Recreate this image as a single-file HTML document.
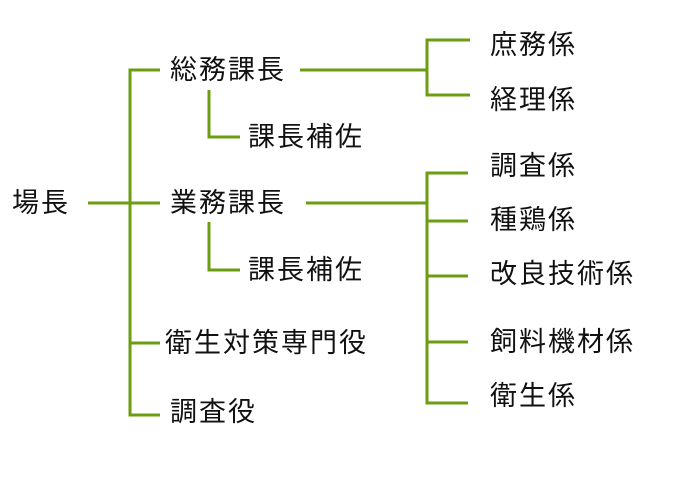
<!DOCTYPE html>
<html><head><meta charset="utf-8"><style>
body{margin:0;background:#fff;width:677px;height:480px;overflow:hidden;position:relative}
svg{position:absolute;left:0;top:0}
.t{position:absolute;font-family:"Liberation Sans","Noto Sans CJK JP",sans-serif;font-size:27px;letter-spacing:2px;color:#111;line-height:30px;white-space:nowrap}
</style></head><body>
<svg width="677" height="480">
<g stroke="#6b9c12" stroke-width="3" fill="none">
<path d="M160 70H130V415H160M88 203H160M130 343H160"/>
<path d="M300 70H427M470 40H427V95H470"/>
<path d="M209 90V137H240M209 222V270H240"/>
<path d="M306 203H427M468 173H427V403H468M427 221H468M427 276H468M427 342H468"/>
</g>
</svg>
<div class="t" style="left:12px;top:188px">場長</div>
<div class="t" style="left:170px;top:55px">総務課長</div>
<div class="t" style="left:248px;top:122px">課長補佐</div>
<div class="t" style="left:170px;top:188px">業務課長</div>
<div class="t" style="left:248px;top:255px">課長補佐</div>
<div class="t" style="left:165px;top:328px">衛生対策専門役</div>
<div class="t" style="left:170px;top:397px">調査役</div>
<div class="t" style="left:490px;top:30px">庶務係</div>
<div class="t" style="left:490px;top:85px">経理係</div>
<div class="t" style="left:490px;top:151px">調査係</div>
<div class="t" style="left:490px;top:205px">種鶏係</div>
<div class="t" style="left:490px;top:259px">改良技術係</div>
<div class="t" style="left:490px;top:327px">飼料機材係</div>
<div class="t" style="left:490px;top:381px">衛生係</div>
</body></html>
